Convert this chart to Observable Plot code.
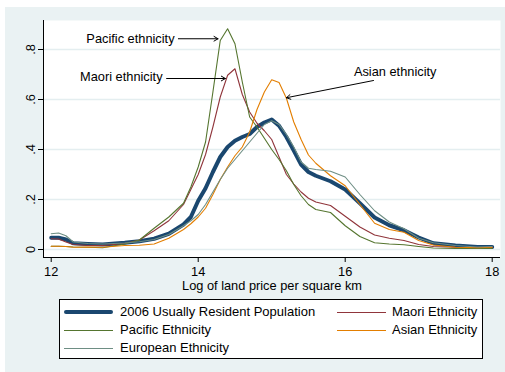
<!DOCTYPE html>
<html>
<head>
<meta charset="utf-8">
<script src="https://cdn.jsdelivr.net/npm/d3@7"></script>
<script src="https://cdn.jsdelivr.net/npm/@observablehq/plot@0.6"></script>
<style>
  body { margin: 0; background: #ffffff; font-family: "Liberation Sans", Arial, sans-serif; }
  #wrap { position: absolute; left: 5px; top: 7px; width: 500px; height: 365px; background: #eaf2f3; }
  #legend { position: absolute; left: 54px; top: 292px; width: 422px; height: 58px; border: 1px solid #000; background: #fff; }
  .li { position: absolute; font-size: 13px; color: #000; white-space: nowrap; line-height: 14px; }
  .ls { position: absolute; }
</style>
</head>
<body>
<div id="wrap">
  <div id="chart"></div>
  <div id="legend"></div>
</div>
<script>
// x grid (log of land price per square km)
const xs = [12, 12.1, 12.2, 12.3, 12.5, 12.7, 13.0, 13.2, 13.4, 13.6, 13.8, 13.9, 14.0, 14.1, 14.2, 14.3, 14.4, 14.5, 14.6, 14.7, 14.8, 14.9, 15.0, 15.1, 15.2, 15.3, 15.4, 15.5, 15.6, 15.8, 16.0, 16.2, 16.4, 16.6, 16.8, 17.0, 17.2, 17.5, 17.8, 18.0];
// density values per series
const total    = [0.047, 0.047, 0.040, 0.025, 0.022, 0.020, 0.027, 0.033, 0.043, 0.063, 0.100, 0.130, 0.195, 0.245, 0.310, 0.370, 0.410, 0.435, 0.450, 0.462, 0.490, 0.508, 0.520, 0.495, 0.450, 0.396, 0.340, 0.310, 0.295, 0.273, 0.240, 0.185, 0.128, 0.097, 0.077, 0.048, 0.025, 0.016, 0.010, 0.010];
const maori    = [0.043, 0.042, 0.030, 0.020, 0.016, 0.016, 0.024, 0.038, 0.075, 0.115, 0.180, 0.240, 0.300, 0.380, 0.490, 0.610, 0.697, 0.723, 0.620, 0.550, 0.505, 0.475, 0.440, 0.370, 0.300, 0.262, 0.230, 0.205, 0.190, 0.176, 0.133, 0.090, 0.058, 0.045, 0.036, 0.020, 0.012, 0.009, 0.008, 0.008];
const pacific  = [0.013, 0.013, 0.012, 0.010, 0.009, 0.007, 0.022, 0.038, 0.085, 0.130, 0.185, 0.250, 0.330, 0.430, 0.630, 0.836, 0.883, 0.823, 0.670, 0.530, 0.490, 0.445, 0.400, 0.360, 0.315, 0.260, 0.215, 0.180, 0.160, 0.148, 0.095, 0.052, 0.027, 0.022, 0.019, 0.012, 0.006, 0.004, 0.004, 0.004];
const asian    = [0.013, 0.013, 0.012, 0.009, 0.010, 0.009, 0.016, 0.017, 0.022, 0.045, 0.080, 0.103, 0.130, 0.165, 0.220, 0.280, 0.330, 0.375, 0.410, 0.470, 0.560, 0.630, 0.679, 0.668, 0.605, 0.510, 0.440, 0.378, 0.345, 0.295, 0.255, 0.180, 0.105, 0.080, 0.069, 0.036, 0.018, 0.009, 0.007, 0.009];
const european = [0.063, 0.066, 0.055, 0.030, 0.024, 0.022, 0.026, 0.031, 0.040, 0.060, 0.095, 0.115, 0.140, 0.180, 0.230, 0.280, 0.325, 0.360, 0.395, 0.430, 0.465, 0.500, 0.515, 0.500, 0.460, 0.410, 0.350, 0.325, 0.320, 0.313, 0.290, 0.220, 0.155, 0.110, 0.083, 0.045, 0.027, 0.016, 0.010, 0.012];

const seriesNames = ["2006 Usually Resident Population", "Maori Ethnicity", "Pacific Ethnicity", "Asian Ethnicity", "European Ethnicity"];
const seriesValues = [total, maori, pacific, asian, european];
const seriesColors = ["#1a476f", "#90353b", "#55752f", "#e37e00", "#6e8e84"];
const seriesWidths = [4, 1.1, 1.1, 1.1, 1.1];

const xTicks = [12, 14, 16, 18];
const yTicks = [0, 0.2, 0.4, 0.6, 0.8];
const yTickLabels = ["0", ".2", ".4", ".6", ".8"];
const xDomain = [11.895, 18.113];
const yDomain = [-0.032, 0.916];
const xTitle = "Log of land price per square km";

// annotations
const annText = ["Pacific ethnicity", "Maori ethnicity", "Asian ethnicity"];
const annX = [13.678, 13.515, 16.68];
const annY = [0.844, 0.689, 0.709];
const annAnchor = ["end", "end", "middle"];
const arrX1 = [13.73, 13.57, 16.385];
const arrY1 = [0.843, 0.684, 0.676];
const arrX2 = [14.27, 14.37, 15.20];
const arrY2 = [0.843, 0.684, 0.607];

// build tidy table
const rows = [];
seriesNames.forEach((name, i) => {
  xs.forEach((x, j) => rows.push({series: name, x, y: seriesValues[i][j]}));
});
const ann = annText.map((t, i) => ({t, x: annX[i], y: annY[i], a: annAnchor[i]}));
const arrows = annText.map((t, i) => ({x1: arrX1[i], y1: arrY1[i], x2: arrX2[i], y2: arrY2[i]}));

const font = "'Liberation Sans', Arial, sans-serif";
const fs = 12.8;

const chart = Plot.plot({
  width: 500,
  height: 288,
  marginLeft: 38,
  marginRight: 5,
  marginTop: 13,
  marginBottom: 38,
  style: {background: "transparent", fontFamily: font, fontSize: fs + "px", color: "#000"},
  x: {domain: xDomain},
  y: {domain: yDomain},
  marks: [
    Plot.frame({fill: "#ffffff", stroke: null}),
    Plot.ruleY(yTicks, {stroke: "#e4eef0", strokeWidth: 1.3}),
    Plot.ruleX([xDomain[0]], {stroke: "#000", strokeWidth: 1}),
    Plot.ruleY([yDomain[0]], {stroke: "#000", strokeWidth: 1}),
    Plot.axisX({ticks: xTicks, tickSize: 5, tickPadding: 4, fontSize: fs, label: null, stroke: "#000", tickFormat: d => String(d)}),
    Plot.axisY({ticks: yTicks, tickSize: 5, tickFormat: () => "", label: null, stroke: "#000"}),
    Plot.text(yTicks, {frameAnchor: "left", y: d => d, text: (d, i) => yTickLabels[i], rotate: -90, dx: -13, fontSize: fs, textAnchor: "middle", lineAnchor: "middle", fill: "#000"}),
    Plot.text([xTitle], {frameAnchor: "bottom", text: d => d, dy: 28, fontSize: fs, lineAnchor: "middle", fill: "#000"}),
    ...seriesNames.map((name, i) => Plot.line(rows.filter(r => r.series === name), {
      x: "x", y: "y", stroke: seriesColors[i], strokeWidth: seriesWidths[i], strokeLinejoin: "round", strokeLinecap: "round"
    })),
    Plot.arrow(arrows, {x1: "x1", y1: "y1", x2: "x2", y2: "y2", stroke: "#000", strokeWidth: 1, headLength: 7}),
    Plot.text(ann.filter(d => d.a === "end"), {x: "x", y: "y", text: "t", textAnchor: "end", fontSize: fs, fill: "#000", lineAnchor: "middle"}),
    Plot.text(ann.filter(d => d.a === "middle"), {x: "x", y: "y", text: "t", textAnchor: "middle", fontSize: fs, fill: "#000", lineAnchor: "middle"})
  ]
});
document.getElementById("chart").appendChild(chart);

// legend
const legend = document.getElementById("legend");
const colText = [60, 332];
const colLine = [4, 277];
const rowY = [12, 30, 48];
seriesNames.forEach((name, i) => {
  const r = Math.floor(i / 2), c = i % 2;
  const ln = document.createElement("div");
  ln.className = "ls";
  ln.style.left = colLine[c] + "px";
  ln.style.width = "49px";
  ln.style.height = seriesWidths[i] > 2 ? "4px" : "1px";
  ln.style.borderRadius = seriesWidths[i] > 2 ? "2px" : "0";
  ln.style.top = (rowY[r] - (seriesWidths[i] > 2 ? 2 : 0.5)) + "px";
  ln.style.background = seriesColors[i];
  legend.appendChild(ln);
  const tx = document.createElement("div");
  tx.className = "li";
  tx.style.left = colText[c] + "px";
  tx.style.top = (rowY[r] - 7) + "px";
  tx.textContent = name;
  legend.appendChild(tx);
});
</script>
</body>
</html>
